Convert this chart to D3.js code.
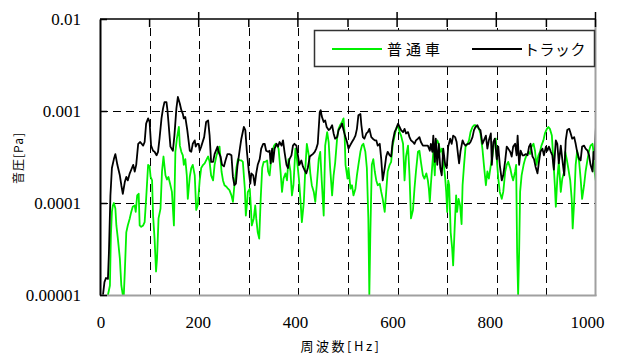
<!DOCTYPE html>
<html>
<head>
<meta charset="utf-8">
<script src="https://cdn.jsdelivr.net/npm/d3@7/dist/d3.min.js"></script>
<style>
  html, body { margin: 0; padding: 0; background: #fff; }
  svg { display: block; }
  .num text { font-family: "Liberation Serif", "Times New Roman", "DejaVu Serif", serif; font-size: 17px; fill: #000; }
</style>
</head>
<body>
<svg id="chart" width="626" height="356"></svg>
<script>
// Sound pressure spectra: passenger car vs. truck
const seriesNames = ["普通車", "トラック"];

const carHz = [16,20,22,24,26,28,31,33,36,40,43,46,48,50,53,56,60,63,66,70,72,75,78,80,83,87,90,93,97,100,
  102,105,107,110,113,115,118,122,125,128,132,135,138,142,145,149,152,155,159,161,164,167,169,172,175,177,181,184,187,191,
  194,197,201,204,208,211,214,218,221,224,228,231,235,238,241,245,248,251,255,258,261,265,268,271,275,278,282,285,288,292,
  294,296,298,302,304,306,310,313,315,318,321,324,327,330,333,337,339,342,344,347,351,354,358,360,364,367,370,374,377,380,
  384,387,390,394,397,401,404,407,411,414,417,421,424,427,431,434,437,441,444,447,451,454,458,461,464,468,471,474,478,481,
  484,488,491,493,495,499,501,505,508,511,515,518,521,525,528,531,535,538,541,543,545,548,551,554,557,560,564,567,570,574,
  577,580,584,587,590,594,597,601,604,607,611,614,617,621,624,627,631,634,637,641,644,647,651,654,658,661,663,665,667,670,
  672,675,677,680,683,686,689,692,696,698,700,702,704,707,710,712,715,718,720,723,726,729,731,734,737,741,744,747,751,754,
  757,761,764,767,771,774,778,781,784,788,791,794,798,800,803,806,810,813,817,820,823,827,830,833,837,839,841,843,845,847,
  850,854,857,860,864,867,870,874,877,880,884,887,890,894,897,901,904,907,911,913,915,917,919,922,925,929,932,936,938,941,
  944,948,951,953,956,959,962,966,969,972,976,979,983,986,989,993,995,997,1000];
const carPa = [1.0e-5,1.27e-5,4.5e-5,8.0e-5,9.4e-5,1.0e-4,8.7e-5,5.7e-5,4.1e-5,2.5e-5,1.27e-5,1.0e-5,1.0e-5,1.78e-5,4.8e-5,5.7e-5,6.8e-5,8.0e-5,9.1e-5,9.4e-5,8.0e-5,1.21e-4,1.26e-4,5.7e-5,5.5e-5,5.7e-5,6.2e-5,1.11e-4,2.6e-4,2.5e-4,
  1.92e-4,1.76e-4,7.3e-5,4.1e-5,1.8e-5,2.5e-5,6.8e-5,8.7e-5,2.2e-4,3.2e-4,2.0e-4,1.8e-4,1.92e-4,1.56e-4,1.32e-4,5.7e-5,3.6e-4,5.0e-4,6.7e-4,4.2e-4,3.6e-4,3.3e-4,2.6e-4,3.0e-4,2.0e-4,1.11e-4,1.92e-4,2.4e-4,2.6e-4,2.0e-4,
  8.4e-5,9.4e-5,1.76e-4,2.4e-4,2.6e-4,2.7e-4,2.9e-4,3.2e-4,2.8e-4,2.0e-4,1.76e-4,2.6e-4,3.3e-4,3.7e-4,4.1e-4,2.2e-4,1.76e-4,1.56e-4,1.5e-4,1.43e-4,1.38e-4,1.21e-4,1.03e-4,1.56e-4,2.4e-4,3.0e-4,2.9e-4,2.9e-4,2.8e-4,1.43e-4,
  7.3e-5,9.4e-5,1.32e-4,1.43e-4,9.4e-5,5.7e-5,6.8e-5,9.4e-5,6.8e-5,4.8e-5,4.1e-5,1.11e-4,2.4e-4,2.8e-4,2.8e-4,2.9e-4,2.2e-4,2.0e-4,2.6e-4,3.6e-4,4.2e-4,4.4e-4,4.1e-4,3.9e-4,2.2e-4,1.32e-4,1.84e-4,2.1e-4,1.76e-4,3.0e-4,
  2.2e-4,1.21e-4,1.56e-4,3.9e-4,3.0e-4,1.84e-4,1.11e-4,6.2e-5,1.03e-4,2.4e-4,4.4e-4,3.3e-4,2.1e-4,1.56e-4,1.32e-4,1.03e-4,1.56e-4,3.0e-4,3.6e-4,1.76e-4,7.3e-5,4.2e-4,5.9e-4,4.6e-4,2.4e-4,1.21e-4,2.0e-4,2.7e-4,5.0e-4,6.4e-4,
  7.0e-4,7.6e-4,8.3e-4,5.9e-4,2.6e-4,1.84e-4,2.4e-4,1.43e-4,1.56e-4,1.21e-4,1.43e-4,2.0e-4,2.6e-4,3.6e-4,4.2e-4,4.4e-4,3.6e-4,2.4e-4,6.8e-5,1.0e-5,4.5e-5,2.6e-4,3.0e-4,2.2e-4,1.76e-4,1.56e-4,1.62e-4,1.32e-4,1.11e-4,8.0e-5,
  1.32e-4,2.2e-4,2.6e-4,2.8e-4,4.2e-4,5.4e-4,6.4e-4,7.0e-4,5.9e-4,5.4e-4,4.4e-4,1.76e-4,3.2e-4,4.2e-4,2.0e-4,6.8e-5,8.4e-5,1.43e-4,2.2e-4,3.6e-4,3.7e-4,2.8e-4,2.0e-4,1.84e-4,2.1e-4,1.76e-4,1.43e-4,1.03e-4,1.56e-4,2.6e-4,
  3.6e-4,2.0e-4,4.2e-4,4.8e-4,4.4e-4,3.6e-4,3.9e-4,3.0e-4,1.84e-4,1.32e-4,8.0e-5,1.76e-4,1.56e-4,4.8e-5,3.2e-5,2.1e-5,5.3e-5,1.21e-4,8.0e-5,1.11e-4,9.4e-5,5.9e-5,1.56e-4,2.6e-4,4.1e-4,4.4e-4,4.8e-4,5.9e-4,6.7e-4,7.0e-4,
  7.0e-4,6.7e-4,6.4e-4,5.7e-4,3.9e-4,2.6e-4,1.56e-4,2.2e-4,1.84e-4,2.6e-4,3.2e-4,4.4e-4,5.0e-4,3.0e-4,1.84e-4,1.32e-4,1.11e-4,1.32e-4,2.2e-4,2.6e-4,2.8e-4,2.4e-4,2.0e-4,1.76e-4,2.2e-4,2.6e-4,2.9e-5,1.0e-5,2.9e-5,1.32e-4,
  2.0e-4,2.6e-4,3.0e-4,3.3e-4,3.6e-4,3.4e-4,4.1e-4,4.4e-4,3.7e-4,2.6e-4,3.3e-4,3.6e-4,4.2e-4,4.8e-4,5.7e-4,6.4e-4,6.7e-4,6.4e-4,5.4e-4,3.6e-4,2.4e-4,1.56e-4,9.1e-5,1.84e-4,2.8e-4,1.32e-4,1.84e-4,2.2e-4,3.6e-4,3.0e-4,
  2.4e-4,1.76e-4,1.11e-4,5.3e-5,1.03e-4,2.6e-4,3.7e-4,2.8e-4,1.84e-4,1.11e-4,1.56e-4,2.2e-4,3.0e-4,3.7e-4,4.2e-4,4.4e-4,3.6e-4,2.2e-4,1.7e-4];

const truckHz = [6,9,12,16,18,21,24,28,31,35,40,43,46,50,53,56,60,63,67,70,73,77,81,87,90,93,97,100,103,107,
  110,114,117,120,124,127,130,134,136,138,142,147,150,154,157,161,164,167,169,172,176,181,184,187,191,193,196,199,201,204,
  210,214,218,221,224,228,231,237,239,243,246,250,253,257,261,265,268,271,274,277,282,285,290,293,296,300,303,305,309,312,
  315,318,322,325,329,332,335,339,342,344,347,349,352,356,359,362,366,369,372,376,379,382,386,389,392,396,399,402,406,409,
  412,416,419,423,426,429,433,436,439,443,445,447,451,454,457,461,464,468,471,474,478,481,485,488,491,494,498,501,504,508,
  512,515,518,521,525,527,530,533,537,540,543,547,550,554,557,560,564,567,570,574,577,580,584,587,590,594,597,601,604,607,
  611,614,617,621,624,627,631,634,637,641,644,647,651,654,657,661,665,667,670,672,675,677,680,683,686,689,692,696,699,702,
  706,709,712,716,719,722,724,727,731,734,737,741,744,747,751,754,757,761,764,767,771,774,778,781,784,788,790,793,796,800,
  803,806,810,813,817,820,823,827,830,833,837,840,842,845,848,852,855,858,862,865,868,872,875,878,882,885,888,892,895,899,
  902,905,909,912,915,919,922,925,929,932,936,939,942,946,949,952,956,959,962,966,969,972,976,979,983,986,989,993,995,997,1000];
const truckPa = [1.0e-5,1.38e-5,1.53e-5,1.5e-5,2.9e-5,1.2e-4,2.4e-4,3.0e-4,3.4e-4,2.6e-4,2.0e-4,1.56e-4,1.26e-4,1.69e-4,1.92e-4,1.76e-4,2.1e-4,2.3e-4,2.6e-4,2.2e-4,2.6e-4,4.4e-4,4.6e-4,4.2e-4,4.6e-4,7.3e-4,8.3e-4,7.6e-4,4.2e-4,3.7e-4,
  3.6e-4,3.3e-4,3.6e-4,5.0e-4,8.3e-4,1.06e-3,1.25e-3,1.25e-3,1.02e-3,7.6e-4,4.1e-4,3.7e-4,5.4e-4,1.06e-3,1.42e-3,1.2e-3,1.02e-3,9.3e-4,8.3e-4,8.6e-4,6.2e-4,3.7e-4,3.6e-4,4.4e-4,4.8e-4,4.1e-4,4.4e-4,4.4e-4,3.7e-4,4.1e-4,
  5.2e-4,7.6e-4,7.9e-4,5.4e-4,2.8e-4,2.8e-4,3.4e-4,4.1e-4,3.6e-4,3.2e-4,2.6e-4,2.5e-4,2.9e-4,3.4e-4,3.4e-4,3.3e-4,1.92e-4,1.56e-4,1.62e-4,2.5e-4,3.9e-4,5.0e-4,6.7e-4,6.2e-4,3.7e-4,2.2e-4,1.62e-4,2.1e-4,2.0e-4,1.56e-4,
  2.1e-4,2.6e-4,3.0e-4,3.9e-4,4.4e-4,4.4e-4,3.7e-4,3.6e-4,3.7e-4,2.7e-4,3.9e-4,2.8e-4,3.9e-4,4.4e-4,4.1e-4,4.6e-4,4.2e-4,4.8e-4,3.6e-4,2.6e-4,2.4e-4,3.0e-4,3.3e-4,4.2e-4,4.4e-4,4.2e-4,3.3e-4,2.6e-4,2.9e-4,2.5e-4,
  2.3e-4,2.1e-4,2.4e-4,3.2e-4,3.3e-4,3.4e-4,3.6e-4,3.9e-4,4.4e-4,9.7e-4,1.02e-3,8.8e-4,7.6e-4,7.9e-4,6.7e-4,6.2e-4,6.4e-4,7.0e-4,5.7e-4,5.0e-4,5.2e-4,6.2e-4,6.7e-4,7.3e-4,6.2e-4,5.4e-4,4.6e-4,3.9e-4,4.2e-4,4.6e-4,
  5.0e-4,5.4e-4,6.4e-4,9.0e-4,9.3e-4,7.0e-4,5.2e-4,5.0e-4,5.7e-4,5.9e-4,6.4e-4,5.2e-4,5.0e-4,4.8e-4,4.8e-4,4.2e-4,4.4e-4,3.0e-4,1.76e-4,2.4e-4,3.2e-4,3.6e-4,3.3e-4,3.2e-4,4.6e-4,5.9e-4,6.4e-4,7.3e-4,6.7e-4,6.2e-4,
  5.9e-4,6.4e-4,5.7e-4,5.9e-4,5.2e-4,4.8e-4,4.6e-4,4.4e-4,4.8e-4,5.0e-4,5.2e-4,4.6e-4,4.2e-4,4.2e-4,4.2e-4,4.2e-4,3.7e-4,4.4e-4,3.6e-4,5.4e-4,2.8e-4,5.0e-4,2.6e-4,4.4e-4,2.4e-4,2.0e-4,3.9e-4,2.6e-4,2.4e-4,4.1e-4,
  5.0e-4,4.4e-4,5.4e-4,5.2e-4,4.6e-4,3.3e-4,2.7e-4,3.7e-4,4.8e-4,4.4e-4,4.2e-4,4.4e-4,4.4e-4,4.6e-4,5.2e-4,6.2e-4,6.7e-4,7.0e-4,6.4e-4,6.2e-4,4.4e-4,4.8e-4,5.4e-4,3.9e-4,4.8e-4,5.7e-4,2.6e-4,4.6e-4,5.0e-4,3.0e-4,
  4.1e-4,2.6e-4,1.76e-4,2.0e-4,2.9e-4,4.1e-4,3.9e-4,3.6e-4,3.2e-4,4.1e-4,4.4e-4,3.3e-4,5.4e-4,2.6e-4,3.7e-4,3.3e-4,3.3e-4,3.4e-4,3.3e-4,4.1e-4,4.4e-4,3.2e-4,3.0e-4,2.5e-4,2.1e-4,2.8e-4,3.6e-4,3.9e-4,3.3e-4,4.1e-4,
  3.7e-4,4.1e-4,3.6e-4,3.3e-4,2.3e-4,4.8e-4,4.4e-4,2.7e-4,4.2e-4,3.0e-4,2.0e-4,4.8e-4,6.2e-4,6.4e-4,5.7e-4,5.0e-4,5.2e-4,4.4e-4,3.6e-4,3.0e-4,2.9e-4,4.1e-4,4.2e-4,3.9e-4,3.7e-4,3.3e-4,2.6e-4,2.2e-4,3.6e-4,3.0e-4,7.0e-4];

const xLabelTicks = [0, 200, 400, 600, 800, 1000];
const xMajorTicks = [200, 400, 600, 800, 1000];
const xMinorTicks = [100, 300, 500, 700, 900];
const xGridTicks = [100, 200, 300, 400, 500, 600, 700, 800, 900];
const yTicks = [1e-5, 1e-4, 1e-3, 1e-2];
const yTickLabels = ["0.00001", "0.0001", "0.001", "0.01"];
const yGridTicks = [1e-4, 1e-3];

const colors = { car: "#00f000", truck: "#000000" };

const plot = { left: 100, right: 596, top: 19, bottom: 295 };

const svg = d3.select("#chart");
svg.append("rect").attr("width", 626).attr("height", 356).attr("fill", "#fff");

const x = d3.scaleLinear().domain([0, 1000]).range([plot.left, plot.right]);
const y = d3.scaleLog().domain([1e-5, 1e-2]).range([plot.bottom, plot.top]);
// tick labels are laid out on a slightly narrower band than the plot
const xLabel = d3.scaleLinear().domain([0, 1000]).range([plot.left + 0.5, plot.right - 9]);

svg.append("defs").append("clipPath").attr("id", "plotClip")
  .append("rect")
  .attr("x", plot.left).attr("y", plot.top - 1)
  .attr("width", plot.right - plot.left).attr("height", plot.bottom - plot.top + 2);

// dashed grid
const grid = svg.append("g").attr("stroke", "#000").attr("stroke-width", 1)
  .attr("stroke-dasharray", "8,5").attr("shape-rendering", "crispEdges");
grid.selectAll(".vg").data(xGridTicks).join("line")
  .attr("x1", d => Math.round(x(d)) + 0.5).attr("x2", d => Math.round(x(d)) + 0.5)
  .attr("y1", plot.top + 9).attr("y2", plot.bottom);
grid.selectAll(".hg").data(yGridTicks).join("line")
  .attr("x1", plot.left).attr("x2", plot.right)
  .attr("y1", d => Math.round(y(d)) + 0.5).attr("y2", d => Math.round(y(d)) + 0.5);

// series
const line = (hz, pa) => d3.line()
  .x(i => x(hz[i]))
  .y(i => y(Math.max(pa[i], 1e-5)))(d3.range(hz.length));

const lines = svg.append("g").attr("clip-path", "url(#plotClip)")
  .attr("fill", "none").attr("stroke-width", 1.8).attr("stroke-linejoin", "round");
lines.append("path").attr("d", line(carHz, carPa)).attr("stroke", colors.car);
lines.append("path").attr("d", line(truckHz, truckPa)).attr("stroke", colors.truck);

// frame: grey right/bottom, black left/top
svg.append("line").attr("x1", plot.right - 0.5).attr("x2", plot.right - 0.5)
  .attr("y1", plot.top).attr("y2", plot.bottom + 1)
  .attr("stroke", "#a0a0a0").attr("stroke-width", 2);
svg.append("line").attr("x1", plot.left).attr("x2", plot.right + 0.5)
  .attr("y1", plot.bottom + 0.5).attr("y2", plot.bottom + 0.5)
  .attr("stroke", "#a0a0a0").attr("stroke-width", 2);

// top axis with major/minor ticks
const topAxis = svg.append("g").attr("stroke", "#000").attr("stroke-width", 1.5);
topAxis.append("line").attr("x1", plot.left).attr("x2", plot.right)
  .attr("y1", plot.top).attr("y2", plot.top);
topAxis.selectAll(".maj").data(xMajorTicks).join("line")
  .attr("x1", d => x(d) - 0.5).attr("x2", d => x(d) - 0.5)
  .attr("y1", plot.top - 7).attr("y2", plot.top + 8);
topAxis.selectAll(".min").data(xMinorTicks).join("line")
  .attr("x1", d => x(d)).attr("x2", d => x(d))
  .attr("y1", plot.top).attr("y2", plot.top + 8);

// left axis (ticks point inward)
const yAxis = d3.axisLeft(y).tickValues(yTicks)
  .tickFormat((d, i) => yTickLabels[i])
  .tickSizeInner(-7).tickSizeOuter(0).tickPadding(19);
const gy = svg.append("g").attr("class", "num")
  .attr("transform", `translate(${plot.left},0)`).call(yAxis)
  .attr("font-family", null).attr("font-size", null);
gy.select(".domain").attr("stroke", "#000").attr("stroke-width", 2);
gy.selectAll(".tick line").attr("stroke", "#000").attr("stroke-width", 1.5);

// bottom labels
const xAxis = d3.axisBottom(xLabel).tickValues(xLabelTicks)
  .tickFormat(d3.format("d")).tickSize(0).tickPadding(21);
const gx = svg.append("g").attr("class", "num")
  .attr("transform", `translate(0,${plot.bottom})`).call(xAxis)
  .attr("font-family", null).attr("font-size", null);
gx.select(".domain").remove();

// axis titles
const cjk = "'Noto Sans CJK JP', 'Noto Sans', sans-serif";
svg.append("text").attr("x", 341).attr("y", 351)
  .attr("text-anchor", "middle").attr("font-family", cjk).attr("font-size", 13)
  .attr("letter-spacing", 2.5).attr("fill", "#000").text("周波数[Hz]");
svg.append("text").attr("transform", "translate(23,158) rotate(-90)")
  .attr("text-anchor", "middle").attr("font-family", cjk).attr("font-size", 12)
  .attr("letter-spacing", 1).attr("fill", "#000").text("音圧[Pa]");

// legend
const lg = svg.append("g");
lg.append("rect").attr("x", 314.5).attr("y", 30.5).attr("width", 280).attr("height", 36)
  .attr("fill", "#fff").attr("stroke", "#333").attr("stroke-width", 1.5);
const legendItems = [
  { name: seriesNames[0], color: colors.car, x0: 332, x1: 382, tx: 387, ls: 4 },
  { name: seriesNames[1], color: colors.truck, x0: 472, x1: 522, tx: 524, ls: 0.5 }
];
legendItems.forEach(it => {
  lg.append("line").attr("x1", it.x0).attr("x2", it.x1).attr("y1", 49).attr("y2", 49)
    .attr("stroke", it.color).attr("stroke-width", 1.8);
  lg.append("text").attr("x", it.tx).attr("y", 54.5)
    .attr("font-family", cjk).attr("font-size", 15).attr("letter-spacing", it.ls)
    .attr("fill", "#000").text(it.name);
});
</script>
</body>
</html>
